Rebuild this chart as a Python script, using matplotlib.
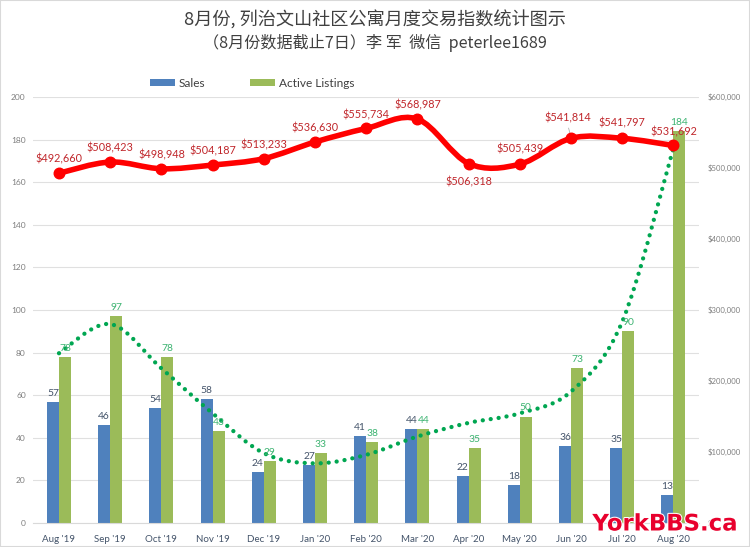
import matplotlib
matplotlib.use('Agg')
import numpy as np
import matplotlib.pyplot as plt
import matplotlib.patheffects as pe
from matplotlib.path import Path
from matplotlib.patches import PathPatch, Rectangle

plt.rcParams['font.family'] = ['Lato', 'DejaVu Sans']

months = ["Aug '19", "Sep '19", "Oct '19", "Nov '19", "Dec '19", "Jan '20", "Feb '20",
          "Mar '20", "Apr '20", "May '20", "Jun '20", "Jul '20", "Aug '20"]
sales = [57, 46, 54, 58, 24, 27, 41, 44, 22, 18, 36, 35, 13]
listings = [78, 97, 78, 43, 29, 33, 38, 44, 35, 50, 73, 90, 184]
prices = [492660, 508423, 498948, 504187, 513233, 536630, 555734,
          568987, 506318, 505439, 541814, 541797, 531692]
# dotted line has no labels
trend = [79.7, 93.4, 72.6, 51.5, 32.8, 28, 32, 40.6, 47, 51.5, 61.7, 94.5, 176]

left_ticks = list(range(0, 201, 20))
right_ticks = [0, 100000, 200000, 300000, 400000, 500000, 600000]
right_labels = ['$-', '$100,000', '$200,000', '$300,000', '$400,000', '$500,000', '$600,000']

# label offsets in pixels from the red points
price_dx = [0, 0, 0, 0, 0, 0, 0, 0, 0, 0, -3, 0, 0]
price_dy = [14, 14, 14, 14, 14, 14, 14, 14, -18, 15, 20, 15, 14]

BLUE = '#4f81bd'
GREEN = '#9bbb59'
RED = '#ff0000'
DOTS = '#00a651'
GREY = '#7f7f7f'
CJK = ['Noto Sans CJK SC', 'DejaVu Sans']


def smooth_path(xs, ys):
    # catmull-rom as bezier, close to what excel does for smoothed lines
    pts = np.column_stack([xs, ys]).astype(float)
    verts = [pts[0]]
    codes = [Path.MOVETO]
    for i in range(len(pts) - 1):
        p0 = pts[max(i - 1, 0)]
        p1 = pts[i]
        p2 = pts[i + 1]
        p3 = pts[min(i + 2, len(pts) - 1)]
        verts += [p1 + (p2 - p0) / 6, p2 - (p3 - p1) / 6, p2]
        codes += [Path.CURVE4] * 3
    return Path(verts, codes)


fig = plt.figure(figsize=(7.5, 5.47), dpi=100)
ax = fig.add_axes([33.4 / 750, 24 / 547, 665.6 / 750, 426 / 547])
ax2 = ax.twinx()

x = np.arange(len(months))
w = 0.234
b1 = ax.bar(x - w / 2, sales, w, color=BLUE, label='Sales', zorder=2)
b2 = ax.bar(x + w / 2, listings, w, color=GREEN, label='Active Listings', zorder=2)

ax.add_patch(PathPatch(smooth_path(x, trend), fill=False, edgecolor=DOTS, lw=3.1,
                       linestyle=(0, (0.01, 1.85)), capstyle='round', zorder=3))

for i in x:
    ax.annotate(str(sales[i]), (i - w / 2, sales[i]), xytext=(0, 4), textcoords='offset pixels',
                ha='center', va='bottom', fontsize=7.4, color='#44546a', zorder=5)
    ax.annotate(str(listings[i]), (i + w / 2, listings[i]), xytext=(0, 4), textcoords='offset pixels',
                ha='center', va='bottom', fontsize=7.4, color='#3cb371', zorder=5)

ax.set_xlim(-0.5, 12.5)
ax.set_ylim(0, 200)
ax.set_yticks(left_ticks)
ax.set_xticks(x)
ax.set_xticklabels(months)
ax.grid(axis='y', color='#e0e0e0', lw=0.8)
ax.set_axisbelow(True)
ax.tick_params(axis='x', length=0, labelsize=7, labelcolor='#44546a', pad=8.5)
ax.tick_params(axis='y', length=0, labelsize=6, labelcolor=GREY, pad=5.5)

ax2.set_ylim(0, 600000)
ax2.set_yticks(right_ticks)
ax2.set_yticklabels(right_labels)
ax2.tick_params(axis='y', length=0, labelsize=5.6, labelcolor=GREY, pad=6)
ax2.add_patch(PathPatch(smooth_path(x, prices), fill=False, edgecolor=RED, lw=4, zorder=4))
ax2.plot(x, prices, 'o', color=RED, ms=7.6, zorder=4)
for i in x:
    ax2.annotate(f'${prices[i]:,}', (i, prices[i]), xytext=(price_dx[i], price_dy[i]),
                 textcoords='offset pixels', ha='center', va='center',
                 fontsize=7.8, color='#c0262b', zorder=6)
# little leader line on the Jun label
ax2.annotate('', (10, prices[10]), xytext=(-3, 13), textcoords='offset pixels',
             arrowprops=dict(arrowstyle='-', color='#a0a0a0', lw=0.5))

for a in (ax, ax2):
    for s in a.spines.values():
        s.set_visible(False)
ax.spines['bottom'].set_visible(True)
ax.spines['bottom'].set_color('#d9d9d9')

fig.legend(handles=[b1, b2], loc='center left', bbox_to_anchor=(148 / 750, 1 - 83 / 547), ncols=2,
           frameon=False, fontsize=8.6, labelcolor='#404040', handlelength=2.1, handleheight=0.5,
           columnspacing=3.7, handletextpad=0.35, borderpad=0.15, borderaxespad=0)

fig.text(0.5, 1 - 20 / 547, '8月份, 列治文山社区公寓月度交易指数统计图示', family=CJK,
         fontsize=13.1, color='#404040', ha='center', va='center')
fig.text(0.5, 1 - 43 / 547, '（8月份数据截止7日）李 军  微信  peterlee1689', family=CJK,
         fontsize=11.6, color='#404040', ha='center', va='center')

fig.text(665 / 750, 1 - 524 / 547, 'YorkBBS.ca', family='DejaVu Sans', fontweight='bold',
         fontsize=16.4, color='#e8002d', ha='center', va='center', zorder=10,
         path_effects=[pe.withStroke(linewidth=1.5, foreground='white')])

fig.add_artist(Rectangle((0, 0), 1, 1, transform=fig.transFigure, fill=False,
                         edgecolor='#d9d9d9', lw=1.5))

fig.savefig('out.png', dpi=100)
